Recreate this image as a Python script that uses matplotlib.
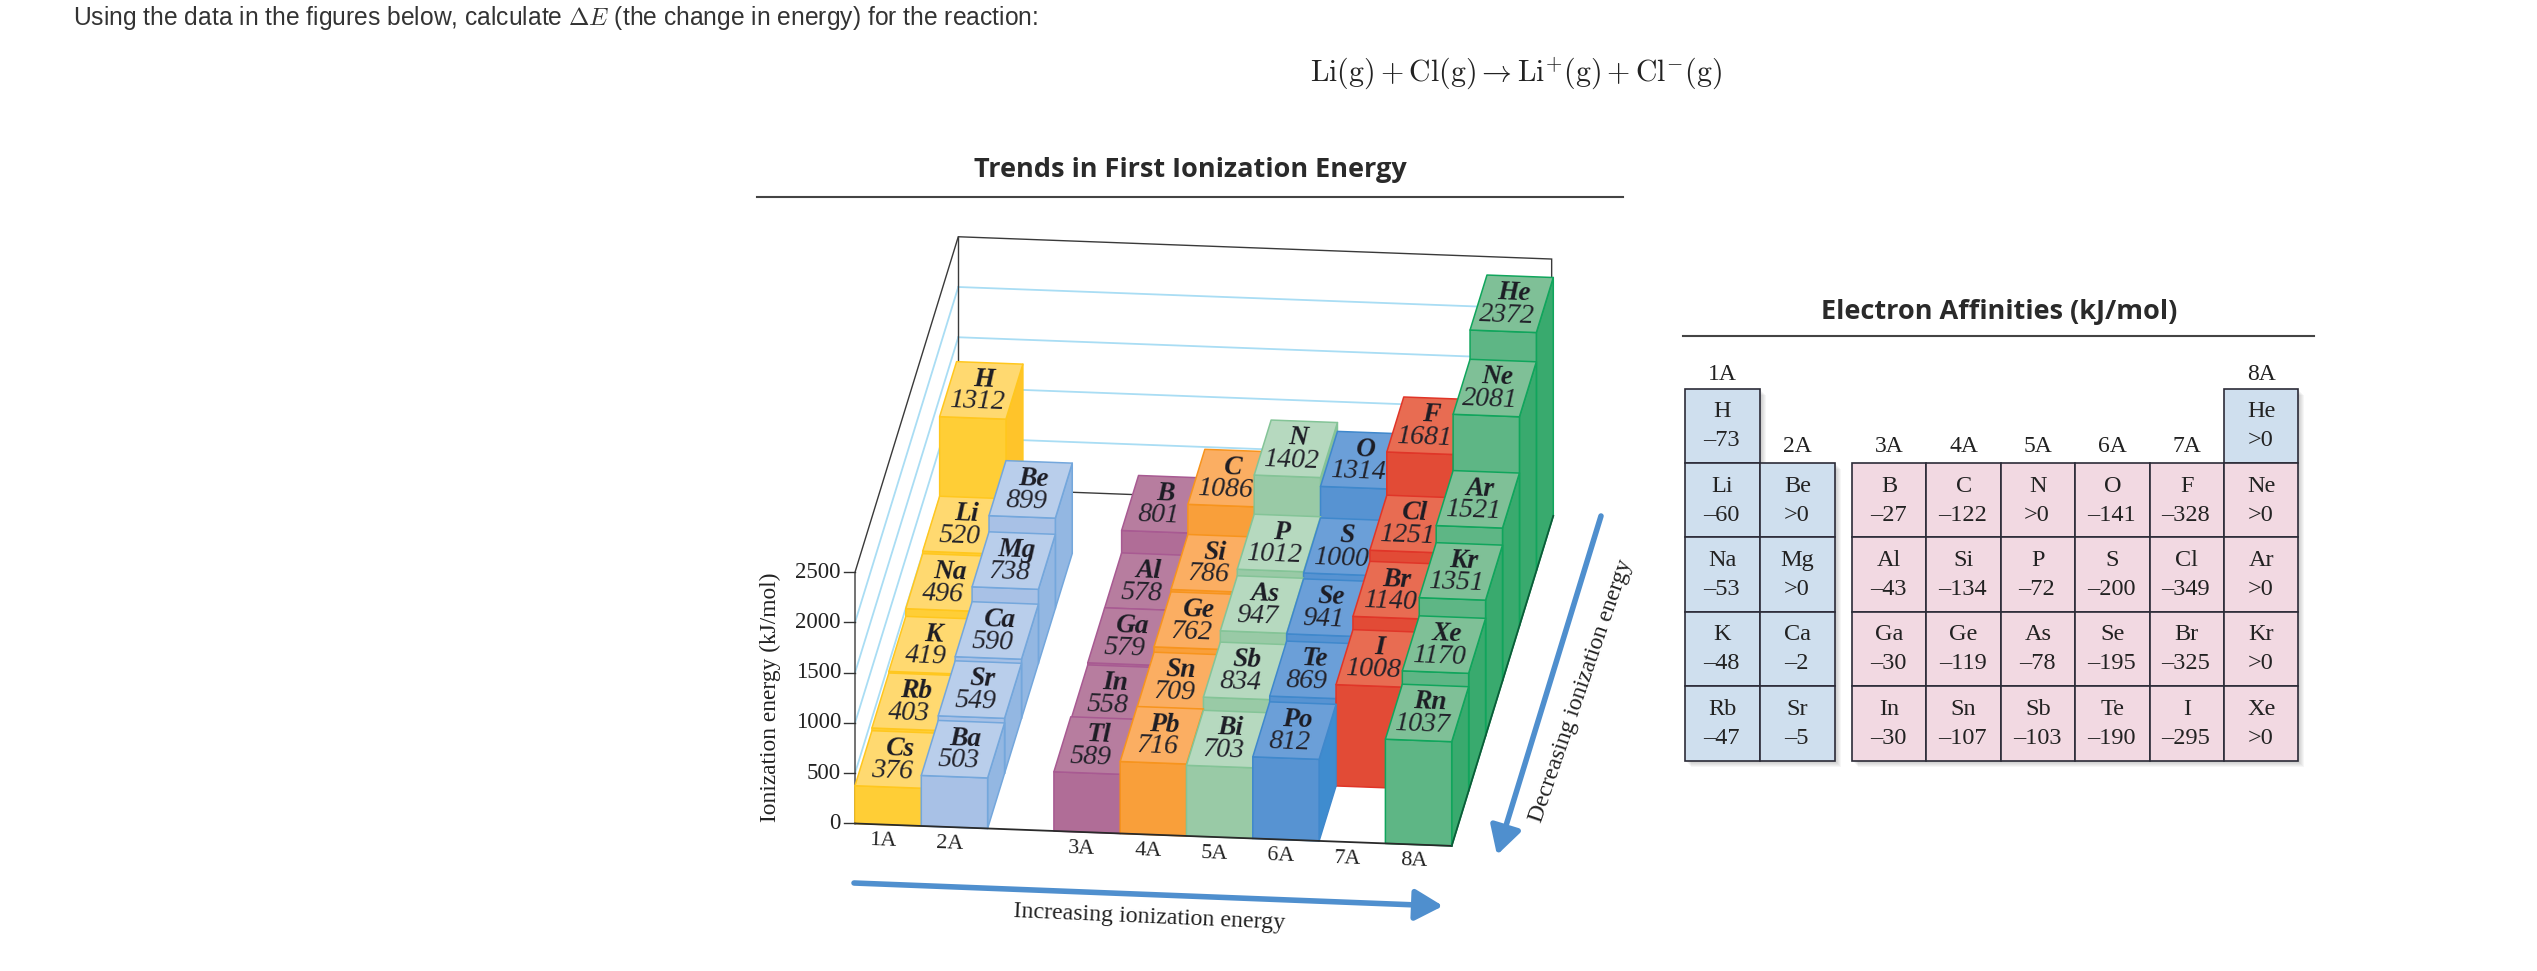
import matplotlib
matplotlib.use("Agg")
import matplotlib.pyplot as plt
from matplotlib import font_manager as fm
from matplotlib.patches import Polygon, Rectangle, FancyArrowPatch

# ---------- data ----------
groups_ie = ["1A", "2A", "3A", "4A", "5A", "6A", "7A", "8A"]
ie_period1 = [("H", 1312), None, None, None, None, None, None, ("He", 2372)]
ie_period2 = [("Li", 520), ("Be", 899), ("B", 801), ("C", 1086), ("N", 1402), ("O", 1314), ("F", 1681), ("Ne", 2081)]
ie_period3 = [("Na", 496), ("Mg", 738), ("Al", 578), ("Si", 786), ("P", 1012), ("S", 1000), ("Cl", 1251), ("Ar", 1521)]
ie_period4 = [("K", 419), ("Ca", 590), ("Ga", 579), ("Ge", 762), ("As", 947), ("Se", 941), ("Br", 1140), ("Kr", 1351)]
ie_period5 = [("Rb", 403), ("Sr", 549), ("In", 558), ("Sn", 709), ("Sb", 834), ("Te", 869), ("I", 1008), ("Xe", 1170)]
ie_period6 = [("Cs", 376), ("Ba", 503), ("Tl", 589), ("Pb", 716), ("Bi", 703), ("Po", 812), None, ("Rn", 1037)]
ie_ticks = [0, 500, 1000, 1500, 2000, 2500]

ea_row1 = [("H", "–73"), None, None, None, None, None, None, ("He", ">0")]
ea_row2 = [("Li", "–60"), ("Be", ">0"), ("B", "–27"), ("C", "–122"), ("N", ">0"), ("O", "–141"), ("F", "–328"), ("Ne", ">0")]
ea_row3 = [("Na", "–53"), ("Mg", ">0"), ("Al", "–43"), ("Si", "–134"), ("P", "–72"), ("S", "–200"), ("Cl", "–349"), ("Ar", ">0")]
ea_row4 = [("K", "–48"), ("Ca", "–2"), ("Ga", "–30"), ("Ge", "–119"), ("As", "–78"), ("Se", "–195"), ("Br", "–325"), ("Kr", ">0")]
ea_row5 = [("Rb", "–47"), ("Sr", "–5"), ("In", "–30"), ("Sn", "–107"), ("Sb", "–103"), ("Te", "–190"), ("I", "–295"), ("Xe", ">0")]

# ---------- style ----------
W, H = 2537, 971
plt.rcParams["font.family"] = ["Liberation Sans", "DejaVu Sans"]
plt.rcParams["mathtext.fontset"] = "cm"
SERIF = "Liberation Serif"
fig = plt.figure(figsize=(W / 100, H / 100), dpi=100)
ax = fig.add_axes([0, 0, 1, 1])
ax.set_xlim(0, W)
ax.set_ylim(H, 0)
ax.axis("off")

# ---------- header ----------
ax.text(73, 18, r"Using the data in the figures below, calculate $\Delta E$ (the change in energy) for the reaction:",
        fontsize=17.7, color="#333333", va="center", ha="left")
ax.text(1516, 74, r"$\mathrm{Li(g)+Cl(g)\rightarrow Li^{+}(g)+Cl^{-}(g)}$",
        fontsize=21.5, color="#222222", va="center", ha="center")

# ---------- 3D bar chart ----------
X0, Y0 = 855.0, 823.5
CW, CS = 66.3, 2.49      # column width, column slope
RX, RY = 16.93, 55.0     # row depth vector
ZS = 0.1005              # px per kJ/mol
DEPTH = 6.1
BACK_RIGHT = 8.95


def P(c, r, z=0.0):
    return (X0 + CW * c + RX * r, Y0 + CS * c - RY * r - ZS * z)


col_pos = [0, 1, 3, 4, 5, 6, 7, 8]
styles = [
    ("#FFD970", "#FFCE36", "#FFC42A", "#FFC71E"),
    ("#B9CEEB", "#A8C1E6", "#93B7E2", "#74A7DC"),
    ("#B77D9F", "#B06D97", "#A3628F", "#A85A92"),
    ("#FBAE62", "#F99F3A", "#F7942A", "#F7941D"),
    ("#B6D9BF", "#99CAA6", "#88C198", "#84C497"),
    ("#6B9FD8", "#5793D2", "#3F8CCF", "#3F88CC"),
    ("#E86C52", "#E24B36", "#D94030", "#E03528"),
    ("#7FC097", "#5EB685", "#39AA6E", "#10A55C"),
]

# walls behind the bars
WALL = "#A9DDF4"
for z in ie_ticks[1:-1]:
    a, b, d = P(0, 0, z), P(0, DEPTH, z), P(BACK_RIGHT, DEPTH, z)
    ax.plot([a[0], b[0]], [a[1], b[1]], color=WALL, lw=1.3, zorder=1)
    ax.plot([b[0], d[0]], [b[1], d[1]], color=WALL, lw=1.3, zorder=1)
FR = "#3A3A3A"
for pts in ([P(0, 0, 0), P(0, 0, 2500), P(0, DEPTH, 2500), P(BACK_RIGHT, DEPTH, 2500), P(BACK_RIGHT, DEPTH, 0)],
            [P(0, DEPTH, 0), P(0, DEPTH, 2500)],
            [P(0, DEPTH, 0), P(BACK_RIGHT, DEPTH, 0)]):
    ax.plot(*zip(*pts), color=FR, lw=1.0, zorder=1.5, solid_joinstyle="miter")

rows_front_to_back = [ie_period6, ie_period5, ie_period4, ie_period3, ie_period2, ie_period1]
zo = 2.0
for r in range(5, -1, -1):
    for g, cell in enumerate(rows_front_to_back[r]):
        if cell is None:
            continue
        c = col_pos[g]
        sym, val = cell
        top, front, side, edge = styles[g]
        kw = dict(edgecolor=edge, linewidth=1.1, joinstyle="round")
        ax.add_patch(Polygon([P(c + 1, r, 0), P(c + 1, r + 1, 0), P(c + 1, r + 1, val), P(c + 1, r, val)],
                             closed=True, facecolor=side, zorder=zo, **kw))
        ax.add_patch(Polygon([P(c, r, 0), P(c + 1, r, 0), P(c + 1, r, val), P(c, r, val)],
                             closed=True, facecolor=front, zorder=zo + .01, **kw))
        ax.add_patch(Polygon([P(c, r, val), P(c + 1, r, val), P(c + 1, r + 1, val), P(c, r + 1, val)],
                             closed=True, facecolor=top, zorder=zo + .02, **kw))
        sx, sy = P(c + .5, r + .71, val)
        vx, vy = P(c + .5, r + .29, val)
        ax.text(sx - 1, sy + 1, sym, family=SERIF, style="italic", weight="bold", fontsize=19.5, color="#1c1c24",
                ha="center", va="center", rotation=-2.2, zorder=zo + .03)
        ax.text(vx - 1, vy, str(val), family=SERIF, style="italic", fontsize=20, color="#22222a",
                ha="center", va="center", rotation=-2.2, zorder=zo + .03)
        zo += 0.1

# floor edges on top
ax.plot(*zip(P(0, 0), P(9, 0)), color="#2a2a2a", lw=1.3, zorder=zo)
ax.plot(*zip(P(9, 0), P(9, 6)), color="#0c5c38", lw=1.3, zorder=zo)

# axis ticks and labels
for z in ie_ticks:
    x, y = P(0, 0, z)
    ax.plot([x - 11, x], [y, y], color="#333333", lw=1.0, zorder=zo)
    ax.text(x - 14, y, str(z), family=SERIF, fontsize=16.5, color="#222222", ha="right", va="center")
ax.text(770, 697, "Ionization energy (kJ/mol)", family=SERIF, fontsize=16.8, color="#222222",
        ha="center", va="center", rotation=90)
for g, name in enumerate(groups_ie):
    x, y = P(col_pos[g] + .5, -0.3)
    ax.text(x, y, name, family=SERIF, fontsize=16, color="#222222", ha="center", va="center", rotation=-2.2)

ARROW = "#4F8FCE"
ax.add_patch(FancyArrowPatch((854, 883), (1443, 906), arrowstyle="-|>,head_length=17,head_width=9.5",
                             color=ARROW, lw=4.0, shrinkA=0, shrinkB=0, zorder=zo))
ax.add_patch(FancyArrowPatch((1601, 516), (1497, 855), arrowstyle="-|>,head_length=17,head_width=9.5",
                             color=ARROW, lw=4.0, shrinkA=0, shrinkB=0, zorder=zo))
ax.text(1149, 917, "Increasing ionization energy", family=SERIF, fontsize=17.2, color="#222222",
        ha="center", va="center", rotation=-2.5)
ax.text(1581, 691, "Decreasing ionization energy", family=SERIF, fontsize=17, color="#222222",
        ha="center", va="center", rotation=71)

# chart title + rule
title_family = next((f for f in ["Open Sans", "Noto Sans", "Lato", "Roboto", "Inter", "Liberation Sans"]
                     if any(e.name == f and (e.weight == "bold" or e.weight == 700)
                            for e in fm.fontManager.ttflist)), "Liberation Sans")
TITLE = dict(family=title_family, weight="bold", fontsize=19.5, color="#2a2a2a", ha="center", va="center")
ax.text(1190, 170, "Trends in First Ionization Energy", **TITLE)
ax.plot([757, 1623], [197, 197], color="#444444", lw=1.5)

# ---------- electron affinity table ----------
ax.text(1999, 312, "Electron Affinities (kJ/mol)", **TITLE)
ax.plot([1683, 2314], [336.5, 336.5], color="#444444", lw=1.5)

LX, LW_, RX0, RW = 1684.5, 75.3, 1852.0, 74.4
TY0, TH = 388.6, 74.4
TOPH = 463.0 - TY0
BLUE, PINK = "#CFDFEE", "#F2D9E2"
GRID = "#2C2C38"


def cell_x(i):
    return LX + LW_ * i if i < 2 else RX0 + RW * (i - 2)


ea_rows = [ea_row1, ea_row2, ea_row3, ea_row4, ea_row5]
ea_groups = groups_ie
# shadow
for n in range(1, 7):
    for r, row in enumerate(ea_rows):
        for i, cell in enumerate(row):
            if cell is None:
                continue
            y = TY0 if r == 0 else 463.0 + TH * (r - 1)
            h = TOPH if r == 0 else TH
            ax.add_patch(Rectangle((cell_x(i) + n, y + n), RW if i >= 2 else LW_, h,
                                   facecolor="#000000", alpha=0.035, edgecolor="none", zorder=2))
for r, row in enumerate(ea_rows):
    for i, cell in enumerate(row):
        if cell is None:
            continue
        sym, val = cell
        y = TY0 if r == 0 else 463.0 + TH * (r - 1)
        h = TOPH if r == 0 else TH
        w = RW if i >= 2 else LW_
        color = PINK if (i >= 2 and r > 0) else BLUE
        ax.add_patch(Rectangle((cell_x(i), y), w, h, facecolor=color, edgecolor=GRID, linewidth=1.2, zorder=3))
        ax.text(cell_x(i) + w / 2, y + h * .31, sym, family=SERIF, fontsize=17.5, color="#222222",
                ha="center", va="center", zorder=4)
        ax.text(cell_x(i) + w / 2 - 1, y + h * .70, val, family=SERIF, fontsize=17.5, color="#222222",
                ha="center", va="center", zorder=4)
for i, name in enumerate(ea_groups):
    y = 374 if i in (0, 7) else 446
    w = RW if i >= 2 else LW_
    ax.text(cell_x(i) + w / 2, y, name, family=SERIF, fontsize=17, color="#222222", ha="center", va="center")

fig.savefig("out.png", dpi=100)
